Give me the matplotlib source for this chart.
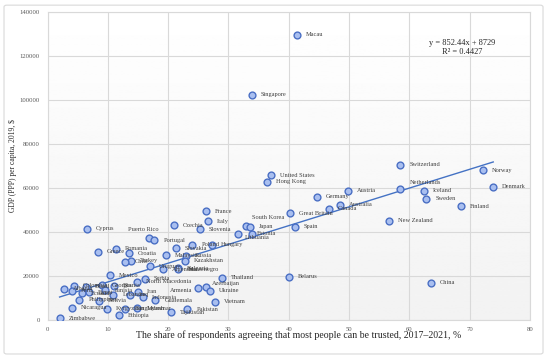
import numpy as np
import matplotlib
matplotlib.use("Agg")
import matplotlib.pyplot as plt
from matplotlib.patches import FancyBboxPatch

plt.rcParams['font.family'] = ['Liberation Serif', 'DejaVu Serif']

# --- data ---
countries = [
    "Macau", "Singapore", "Switzerland", "Norway", "United States", "Hong Kong",
    "Denmark", "Netherlands", "Iceland", "Austria", "Germany", "Sweden",
    "Australia", "Finland", "Canada", "France", "Great Britain", "New Zealand",
    "Italy", "Czechia", "South Korea", "Japan", "Spain", "Cyprus", "Slovenia",
    "Lithuania", "Estonia", "Puerto Rico", "Portugal", "Poland", "Hungary",
    "Slovakia", "Romania", "Greece", "Croatia", "Malaysia", "Russia", "Turkey",
    "Kazakhstan", "Chile", "Uruguay", "Argentina", "Bulgaria", "Montenegro",
    "Thailand", "Belarus", "China", "Mexico", "Serbia", "North Macedonia",
    "Georgia", "Bosnia", "Azerbaijan", "Armenia", "Ukraine", "Iran",
    "Indonesia", "Iraq", "Lebanon", "Guatemala", "Vietnam", "Pakistan",
    "Tajikistan", "Albania", "Colombia", "Peru", "Ecuador", "Philippines",
    "Brazil", "Egypt", "Bolivia", "Tunisia", "Nicaragua", "Kyrgyzstan",
    "Bangladesh", "Myanmar", "Ethiopia", "Zimbabwe",
]
trust = [
    41.4, 33.9, 58.5, 72.2, 37.0, 36.4,
    73.9, 58.5, 62.4, 49.8, 44.6, 62.8,
    48.5, 68.5, 46.7, 26.3, 40.2, 56.6,
    26.6, 21.0, 32.9, 33.6, 41.0, 6.5, 25.2,
    31.6, 33.9, 16.8, 17.7, 24.0, 27.2,
    21.3, 11.3, 8.3, 13.5, 19.6, 22.9, 13.9,
    22.8, 12.9, 17.0, 19.1, 21.6, 21.7,
    28.9, 40.0, 63.5, 10.4, 16.1, 14.9,
    9.1, 11.0, 26.3, 24.9, 27.0, 15.0,
    15.8, 13.6, 10.9, 17.9, 27.7, 23.2,
    20.5, 2.7, 4.4, 4.1, 5.7, 5.3,
    6.4, 6.9, 8.5, 9.5, 4.1, 9.8,
    12.9, 14.9, 11.8, 2.0,
]
gdp = [
    129500, 102300, 70500, 68000, 65600, 62700,
    60500, 59500, 58600, 58600, 55900, 55100,
    52300, 51700, 50600, 49400, 48500, 45100,
    44900, 43000, 42600, 42300, 42300, 41500, 41100,
    39000, 39000, 37000, 36200, 34200, 34200,
    32500, 32400, 30900, 30200, 29400, 29200, 27000,
    26800, 26400, 24500, 23000, 23500, 23000,
    19100, 19700, 16800, 20400, 18800, 17300,
    15800, 15600, 15100, 14400, 13300, 12800,
    10400, 11400, 11400, 8900, 8300, 4800,
    3500, 14200, 15600, 13300, 12100, 9100,
    15200, 12600, 8700, 13600, 5600, 5100,
    5100, 5300, 2200, 700,
]

# label offsets (points) where the reference moves a label off its default spot
label_shift = {
    "Puerto Rico": (-15, 6.5, "left"),
    "South Korea": (4.5, 6.5, "left"),
    "Armenia": (-4, -1.5, "right"),
    "Azerbaijan": (4.5, 2.0, "left"),
    "Lithuania": (4.5, -2.7, "left"),
    "Estonia": (3.5, 0.5, "left"),
    "Netherlands": (7, 4.5, "left"),
}

slope, intercept, r2 = 852.44, 8729, 0.4427

x_ticks = np.arange(0, 81, 10)
y_ticks = np.arange(0, 140001, 20000)

fig = plt.figure(figsize=(5.5, 3.6), dpi=100)
ax = fig.add_axes([0.0864, 0.1111, 0.8773, 0.8569])

# light gradient background of the plot area
grad = np.linspace(1.0, 0.95, 256).reshape(-1, 1)
ax.imshow(grad, extent=[0, 1, 0, 1], transform=ax.transAxes, cmap='gray',
          vmin=0, vmax=1, aspect='auto', zorder=0)

ax.set_xlim(0, 80)
ax.set_ylim(0, 140000)
ax.set_xticks(x_ticks)
ax.set_yticks(y_ticks)
ax.grid(True, color='#d9d9d9', linewidth=0.8, zorder=1)
for s in ax.spines.values():
    s.set_color('#d9d9d9')
    s.set_linewidth(0.8)
ax.tick_params(length=0, labelsize=4.8, colors='#595959')
ax.tick_params(axis='x', pad=5)
ax.tick_params(axis='y', pad=5.5)

# trend line
tx = np.array([min(trust), max(trust)])
ax.plot(tx, slope * tx + intercept, color='#4472c4', linewidth=1.0, zorder=2)

ax.scatter(trust, gdp, s=24, facecolor='#a9bff0', edgecolor='#4a6fc4',
           linewidth=1.0, zorder=3)

for name, x, y in zip(countries, trust, gdp):
    dx, dy, ha = label_shift.get(name, (6.5, 0, "left"))
    ax.annotate(name, (x, y), xytext=(dx, dy), textcoords='offset points',
                ha=ha, va='center', fontsize=4.6, color='#404040', zorder=4)

ax.text(0.859, 0.883, f"y = {slope}x + {intercept}\nR\u00b2 = {r2}",
        transform=ax.transAxes, ha='center', va='center', fontsize=6,
        color='#262626', linespacing=1.2, zorder=4)

ax.set_xlabel("The share of respondents agreeing that most people can be trusted, 2017\u20132021, %",
              fontsize=7.1, color='#262626')
ax.xaxis.set_label_coords(0.52, -0.032)
ax.set_ylabel("GDP (PPP) per capita, 2019, $", fontsize=5.5, color='#262626')
ax.yaxis.set_label_coords(-0.063, 0.5)

# chart border
border = FancyBboxPatch((0.0073, 0.0167), 0.98, 0.969, transform=fig.transFigure,
                        boxstyle="round,pad=0,rounding_size=0.005",
                        facecolor='none', edgecolor='#d9d9d9', linewidth=0.8)
fig.patches.append(border)

fig.savefig("out.png", dpi=100)
